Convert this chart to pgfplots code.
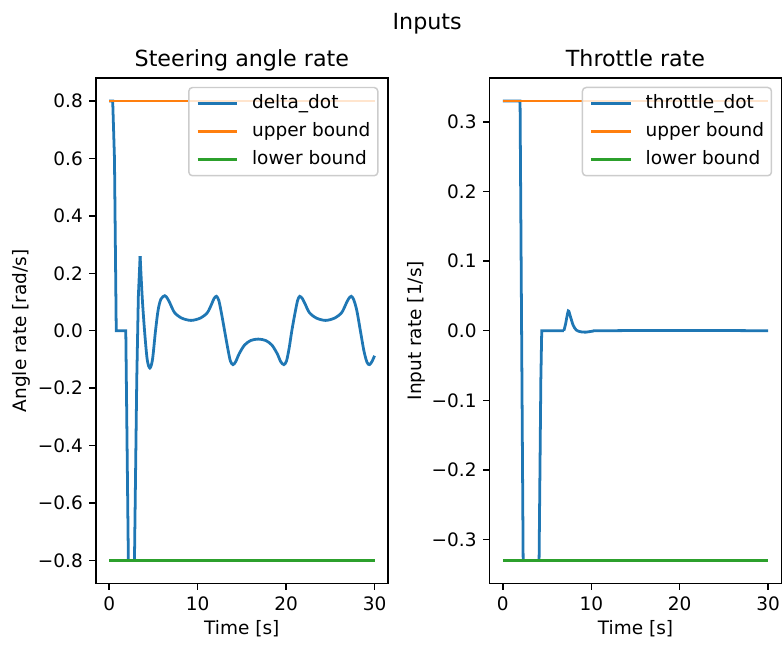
\documentclass[border=0pt]{standalone}
\usepackage{pgfplots}
\pgfplotsset{compat=1.18}
\usepackage{fontspec}
\setmainfont{DejaVu Sans}

\definecolor{c0}{HTML}{1F77B4}
\definecolor{c1}{HTML}{FF7F0E}
\definecolor{c2}{HTML}{2CA02C}
\definecolor{legframe}{HTML}{CCCCCC}

\pgfplotsset{
  mpl/.style={
    scale only axis, width=157.8pt, height=273.2pt,
    axis line style={line width=0.8pt},
    tick align=outside, major tick length=3.5pt,
    every tick/.style={black, line width=0.8pt},
    tick pos=left,
    tick label style={font=\fontsize{10}{12}\selectfont},
    xmin=-1.5, xmax=31.5,
    xtick={0,10,20,30}, xticklabels={0,10,20,30},
    every axis title/.style={at={(0.5,1)}, anchor=base, yshift=6.2pt,
      font=\fontsize{12}{14}\selectfont},
    every axis x label/.style={at={(axis description cs:0.5,0)}, anchor=base,
      yshift=-27.6pt, font=\fontsize{10}{12}\selectfont},
    xlabel={Time [s]},
    every axis plot/.append style={line width=1.5pt},
    legend cell align=left,
    legend image code/.code={
      \draw[#1, line width=1.5pt] (0pt,0pt) -- (21.5pt,0pt);},
    legend style={at={(1,1)}, anchor=north east, xshift=-5pt, yshift=-4.7pt,
      draw=legframe, line width=0.8pt, rounded corners=2pt,
      fill=white, fill opacity=0.8, draw opacity=1, text opacity=1,
      inner xsep=4pt, inner ysep=3.75pt, row sep=5.1pt, column sep=7.2pt,
      font=\fontsize{10}{12}\selectfont,
      nodes={inner sep=0pt, text height=7.5pt, text depth=2.5pt}},
  }
}

\begin{document}
\begin{tikzpicture}
\useasboundingbox (-51.84pt,-32.94pt) rectangle (370.9pt,315.4pt);

% ---------- steering angle rate ----------
\begin{axis}[mpl,
  at={(0pt,0pt)}, anchor=south west,
  title={Steering angle rate},
  ymin=-0.88, ymax=0.88,
  ytick={-0.8,-0.6,-0.4,-0.2,0,0.2,0.4,0.6,0.8},
  yticklabels={−0.8,−0.6,−0.4,−0.2,0.0,0.2,0.4,0.6,0.8},
  every axis y label/.style={at={(axis description cs:-0.237,0.5)},
    rotate=90, anchor=base, font=\fontsize{10}{12}\selectfont},
  ylabel={Angle rate [rad/s]},
]
% delta_dot: saturated start, then smooth oscillation
\addplot[c0] coordinates {
  (0,0.8) (0.4,0.8) (0.6,0.6) (0.8,0) (1.88,0) (2.17,-0.8)
  (2.86,-0.8) (3.12,-0.17) (3.3,0.12) (3.5,0.26)
};
\addlegendentry{delta\_dot}
\addplot[c0, smooth, tension=0.5, forget plot] coordinates {
  (3.5,0.26) (3.73,0.12) (4.0,0.0) (4.3,-0.10) (4.6,-0.13) (4.9,-0.10)
  (5.24,0.0) (5.54,0.073) (5.85,0.11) (6.29,0.122)
  (6.6,0.112) (6.9,0.094) (7.4,0.063) (8.2,0.044) (9.25,0.036)
  (10.3,0.044) (11.1,0.063) (11.6,0.094) (11.85,0.112) (12.13,0.12)
  (12.4,0.105) (12.7,0.06) (13.05,0.0) (13.4,-0.06) (13.7,-0.105) (14.0,-0.118)
  (14.3,-0.108) (14.7,-0.08) (15.3,-0.05) (16.0,-0.034) (16.85,-0.029)
  (17.7,-0.034) (18.4,-0.05) (19.0,-0.08) (19.4,-0.108) (19.75,-0.118)
  (20.05,-0.105) (20.35,-0.06) (20.65,0.0) (21.0,0.06) (21.3,0.105) (21.54,0.12)
  (21.84,0.112) (22.14,0.094) (22.64,0.063) (23.44,0.044) (24.46,0.036)
  (25.48,0.044) (26.28,0.063) (26.78,0.094) (27.08,0.112) (27.37,0.12)
  (27.65,0.108) (28.0,0.07) (28.4,0.0) (28.8,-0.07) (29.15,-0.11)
  (29.44,-0.118) (29.75,-0.105) (30.0,-0.087)
};
\addplot[c1] coordinates {(0,0.8) (30,0.8)};
\addlegendentry{upper bound}
\addplot[c2] coordinates {(0,-0.8) (30,-0.8)};
\addlegendentry{lower bound}
\end{axis}

% ---------- throttle rate ----------
\begin{axis}[mpl,
  at={(212.8pt,0pt)}, anchor=south west,
  title={Throttle rate},
  ymin=-0.363, ymax=0.363,
  ytick={-0.3,-0.2,-0.1,0,0.1,0.2,0.3},
  yticklabels={−0.3,−0.2,−0.1,0.0,0.1,0.2,0.3},
  every axis y label/.style={at={(axis description cs:-0.2334,0.5)},
    rotate=90, anchor=base, font=\fontsize{10}{12}\selectfont},
  ylabel={Input rate [1/s]},
]
% throttle_dot: saturated steps, then a small bump that settles at zero
\addplot[c0] coordinates {
  (0,0.33) (1.95,0.33) (2.3,-0.33) (4.1,-0.33) (4.3,-0.07) (4.4,0)
  (6.9,0)
};
\addlegendentry{throttle\_dot}
\addplot[c0, smooth, tension=0.45, forget plot] coordinates {
  (6.9,0) (7.1,0.01) (7.4,0.0285) (7.65,0.02) (7.95,0.008) (8.3,0.001)
  (8.8,-0.0015) (9.4,-0.002) (10.2,-0.0005) (11,0) (20,0.0005) (30,0)
};
\addplot[c1] coordinates {(0,0.33) (30,0.33)};
\addlegendentry{upper bound}
\addplot[c2] coordinates {(0,-0.33) (30,-0.33)};
\addlegendentry{lower bound}
\end{axis}

\node[anchor=base, font=\fontsize{12}{14}\selectfont] at (179.1pt,299.2pt) {Inputs};
\end{tikzpicture}
\end{document}
